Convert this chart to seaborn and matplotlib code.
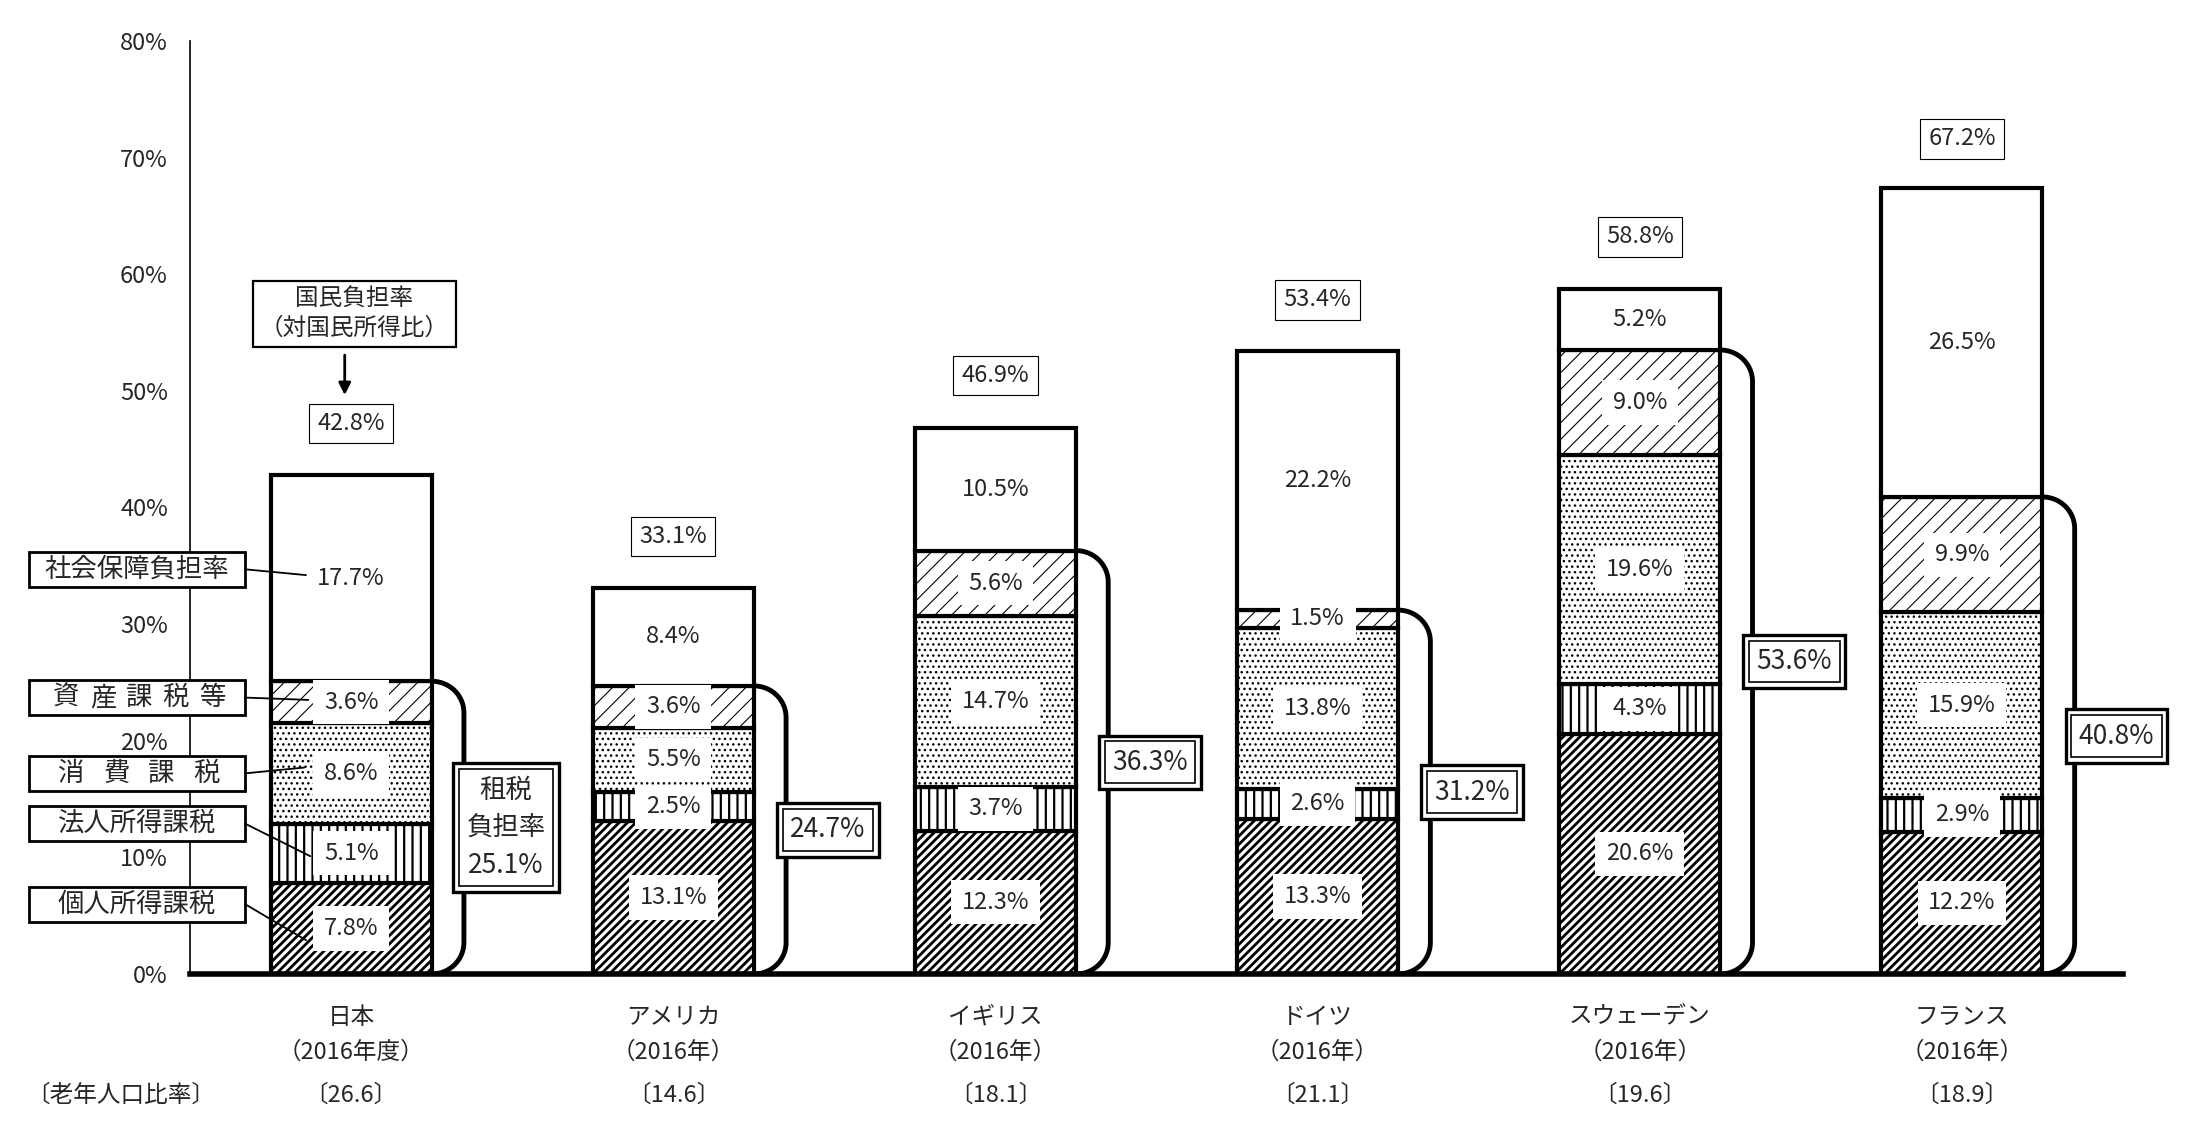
import numpy as np
import pandas as pd
import matplotlib
matplotlib.use("Agg")
import matplotlib.pyplot as plt
from matplotlib.patches import Rectangle
import seaborn as sns

countries = ["日本", "アメリカ", "イギリス", "ドイツ", "スウェーデン", "フランス"]
years = ["（2016年度）", "（2016年）", "（2016年）", "（2016年）", "（2016年）", "（2016年）"]
elderly = ["26.6", "14.6", "18.1", "21.1", "19.6", "18.9"]

personal = [7.8, 13.1, 12.3, 13.3, 20.6, 12.2]
corporate = [5.1, 2.5, 3.7, 2.6, 4.3, 2.9]
consumption = [8.6, 5.5, 14.7, 13.8, 19.6, 15.9]
asset = [3.6, 3.6, 5.6, 1.5, 9.0, 9.9]
social = [17.7, 8.4, 10.5, 22.2, 5.2, 26.5]
tax_total = [25.1, 24.7, 36.3, 31.2, 53.6, 40.8]
national_total = [42.8, 33.1, 46.9, 53.4, 58.8, 67.2]

legend_names = ["個人所得課税", "法人所得課税", "消費課税", "資産課税等", "社会保障負担率"]

sns.set_style("white")
plt.rcParams['font.family'] = ['Noto Sans CJK JP', 'DejaVu Sans']

df = pd.DataFrame({"国": countries, "個人": personal, "法人": corporate,
                   "消費": consumption, "資産": asset, "社会": social})

fig = plt.figure(figsize=(21.9, 11.34), dpi=100)
ax = fig.add_axes([0.0868, 0.1411, 0.8826, 0.8228])

layers = [("個人", "////", 2.0), ("法人", "||", 1.6), ("消費", "...", 1.0),
          ("資産", "//", 0.8), ("社会", "", 1.4)]

bottom = np.zeros(len(countries))
for col, hatch, hlw in layers:
    n_before = len(ax.patches)
    plt.rcParams['hatch.linewidth'] = hlw
    sns.barplot(data=df, x="国", y=col, order=countries, bottom=bottom, width=0.5,
                color="white", saturation=1, edgecolor="black", linewidth=3,
                hatch=hatch, errorbar=None, ax=ax, zorder=2)
    for p in ax.patches[n_before:]:
        if hasattr(p, "set_hatch_linewidth"):
            p.set_hatch_linewidth(hlw)
    vals = df[col].values
    for i, v in enumerate(vals):
        ax.text(i, bottom[i] + v / 2, f"{v:.1f}%", ha="center", va="center", fontsize=17,
                bbox=dict(boxstyle="square,pad=0.45", fc="white", ec="none"), zorder=5)
    bottom = bottom + vals

tax_top = np.array(personal) + np.array(corporate) + np.array(consumption) + np.array(asset)

# brackets + tax boxes
t = np.linspace(0, np.pi / 2, 40)
rx, ry = 0.1, 2.7
for i, top in enumerate(tax_top):
    x0 = i + 0.25
    xs = np.concatenate([x0 + rx * np.sin(t), x0 + rx * np.cos(t)])
    ys = np.concatenate([top - ry + ry * np.cos(t), ry - ry * np.sin(t)])
    ax.plot(xs, ys, color="black", lw=3.5, solid_capstyle="butt", zorder=3)

    txt = f"{tax_total[i]}%" if i > 0 else f"租税\n負担率\n{tax_total[i]}%"
    ax.text(i + 0.48, tax_total[i] / 2, txt, ha="center", va="center", fontsize=19,
            color="white", linespacing=1.5,
            bbox=dict(boxstyle="square,pad=0.5", fc="white", ec="black", lw=2.4), zorder=6)
    ax.text(i + 0.48, tax_total[i] / 2, txt, ha="center", va="center", fontsize=19,
            linespacing=1.5,
            bbox=dict(boxstyle="square,pad=0.28", fc="white", ec="black", lw=1.2), zorder=7)

# totals above bars
for i, v in enumerate(national_total):
    ax.text(i, v + 4.4, f"{v}%", ha="center", va="center", fontsize=17,
            bbox=dict(boxstyle="square,pad=0.35", fc="white", ec="black", lw=0.8), zorder=5)

# Japan annotation
ax.text(0.01, 56.6, "国民負担率\n（対国民所得比）", ha="center", va="center", fontsize=17,
        linespacing=1.3,
        bbox=dict(boxstyle="square,pad=0.3", fc="white", ec="black", lw=1.6), zorder=6)
ax.annotate("", xy=(-0.02, 49.4), xytext=(-0.02, 53.3),
            arrowprops=dict(arrowstyle="-|>", color="black", lw=2, mutation_scale=18),
            zorder=6)

# left legend boxes
box_y = [6.0, 12.9, 17.2, 23.7, 34.7]
line_end = [(-0.14, 2.9), (-0.127, 10.1), (-0.146, 17.7), (-0.133, 23.5), (-0.14, 34.2)]
for name, yc, (xe, ye) in zip(legend_names, box_y, line_end):
    ax.add_patch(Rectangle((-1.0, yc - 1.5), 0.67, 3.0, fc="white", ec="black", lw=2,
                           clip_on=False, zorder=6))
    ax.plot([-0.33, xe], [yc, ye], color="black", lw=1.3, clip_on=False, zorder=6)
    if name in ("資産課税等", "消費課税"):
        x_lo, x_hi = (-0.884, -0.431) if len(name) == 5 else (-0.868, -0.45)
        for ch, xc in zip(name, np.linspace(x_lo, x_hi, len(name))):
            ax.text(xc, yc, ch, ha="center", va="center", fontsize=19, clip_on=False, zorder=7)
    else:
        ax.text(-0.665, yc, name, ha="center", va="center", fontsize=19, clip_on=False, zorder=7)

# category labels under axis
for i in range(len(countries)):
    ax.text(i, -3.7, countries[i], ha="center", va="center", fontsize=17, clip_on=False)
    ax.text(i, -6.7, years[i], ha="center", va="center", fontsize=17, clip_on=False)
    ax.text(i, -10.4, f"〔{elderly[i]}〕", ha="center", va="center", fontsize=17, clip_on=False)
ax.text(-1.01, -10.4, "〔老年人口比率〕", ha="left", va="center", fontsize=17, clip_on=False)

ax.set_xlim(-0.5, 5.5)
ax.set_ylim(0, 80)
ax.set_yticks(range(0, 81, 10))
ax.set_yticklabels([f"{v}%" for v in range(0, 81, 10)])
ax.tick_params(axis="y", direction="in", length=7, width=1.2, labelsize=17, pad=16)
ax.tick_params(axis="x", length=0, labelbottom=False)
ax.set_xlabel("")
ax.set_ylabel("")
for s in ["top", "right"]:
    ax.spines[s].set_visible(False)
ax.spines["left"].set_linewidth(1.2)
ax.spines["left"].set_color("black")
ax.spines["bottom"].set_linewidth(4)
ax.spines["bottom"].set_color("black")
ax.spines["bottom"].set_zorder(4)

fig.savefig("out.png", dpi=100, facecolor="white")
